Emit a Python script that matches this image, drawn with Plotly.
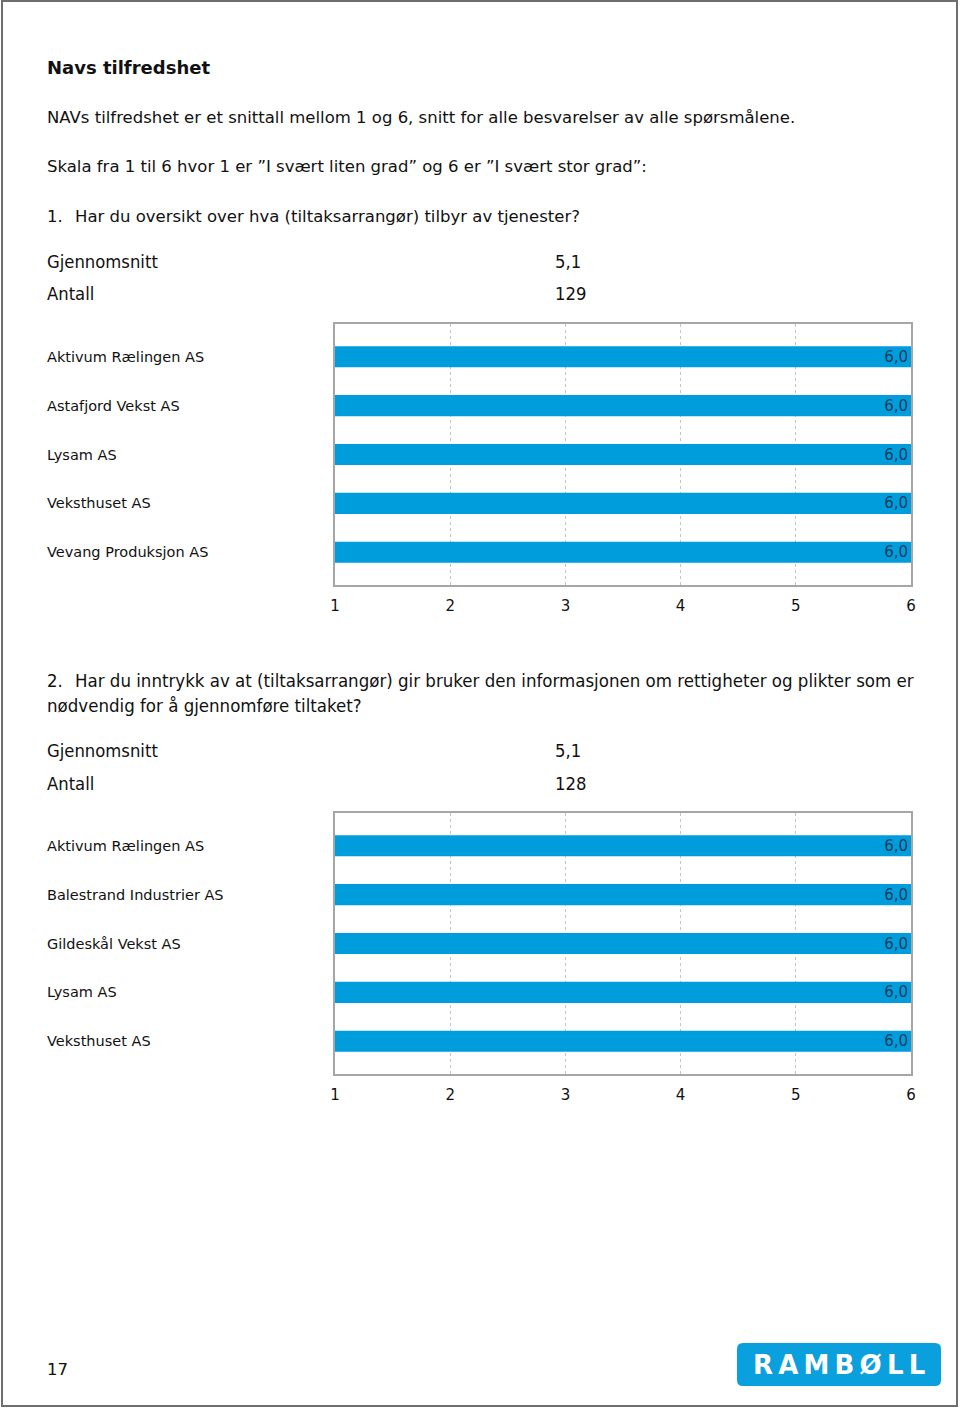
import plotly.graph_objects as go

# ── Data ──────────────────────────────────────────────────────────────────────
Q1_TEXT = "Har du oversikt over hva (tiltaksarrangør) tilbyr av tjenester?"
Q1_MEAN = 5.1
Q1_N = 129
Q1_COMPANIES = ["Aktivum Rælingen AS", "Astafjord Vekst AS", "Lysam AS",
                "Veksthuset AS", "Vevang Produksjon AS"]
Q1_SCORES = [6.0, 6.0, 6.0, 6.0, 6.0]

Q2_TEXT = ["Har du inntrykk av at (tiltaksarrangør) gir bruker den informasjonen "
           "om rettigheter og plikter som er",
           "nødvendig for å gjennomføre tiltaket?"]
Q2_MEAN = 5.1
Q2_N = 128
Q2_COMPANIES = ["Aktivum Rælingen AS", "Balestrand Industrier AS", "Gildeskål Vekst AS",
                "Lysam AS", "Veksthuset AS"]
Q2_SCORES = [6.0, 6.0, 6.0, 6.0, 6.0]

SCALE_TICKS = [1, 2, 3, 4, 5, 6]

# ── Style ─────────────────────────────────────────────────────────────────────
W, H = 960, 1408
BLUE = "#009DDC"
VERDANA = "DejaVu Sans, Verdana, sans-serif"
TAHOMA = "DejaVu Sans Condensed, Noto Sans, sans-serif"
FRAME = "#A6A6A6"
GRID = "#C4C4C4"


def px_x(x):
    return x / W


def px_y(y):
    return 1 - y / H


fig = go.Figure()

# plot boxes in pixels: (top, bottom)
boxes = [(324, 585), (813, 1074)]
x_dom = [px_x(335), px_x(911)]

for i, (companies, scores) in enumerate([(Q1_COMPANIES, Q1_SCORES), (Q2_COMPANIES, Q2_SCORES)]):
    sfx = "" if i == 0 else str(i + 1)
    fig.add_trace(go.Bar(
        x=scores, y=companies, orientation="h",
        xaxis="x" + sfx, yaxis="y" + sfx,
        marker=dict(color=BLUE, line=dict(width=0)),
        width=0.43,
        texttemplate="%{x:.1f}",
        textposition="inside", insidetextanchor="end", constraintext="none",
        textfont=dict(color="#1A3A5C", size=15, family=VERDANA),
        showlegend=False,
    ))
    top, bot = boxes[i]
    fig.layout["xaxis" + sfx] = dict(
        domain=x_dom, anchor="y" + sfx, range=[1, 6],
        tickvals=SCALE_TICKS, ticktext=[str(t) for t in SCALE_TICKS],
        showgrid=True, gridcolor=GRID, griddash="3px,3px", gridwidth=1,
        showline=True, linecolor=FRAME, linewidth=2, mirror=True,
        zeroline=False, ticks="outside", ticklen=6, tickcolor="rgba(0,0,0,0)",
        tickfont=dict(size=15, color="#111", family=VERDANA),
        automargin=False, fixedrange=True,
    )
    fig.layout["yaxis" + sfx] = dict(
        domain=[px_y(bot), px_y(top)], anchor="x" + sfx,
        type="category", range=[4.67, -0.67],
        showticklabels=False, showgrid=False,
        showline=True, linecolor=FRAME, linewidth=2, mirror=True,
        automargin=False, fixedrange=True,
    )
    for c in companies:
        fig.add_annotation(
            x=px_x(45), xref="paper", y=c, yref="y" + sfx,
            text=c, showarrow=False, xanchor="left", yanchor="middle",
            font=dict(size=14.5, color="#111", family=VERDANA),
        )

ann = []


def text(x, y, s, size=16.5, family=VERDANA, bold=False):
    ann.append(dict(
        x=px_x(x - 2), y=px_y(y), xref="paper", yref="paper",
        text=f"<b>{s}</b>" if bold else s, showarrow=False,
        xanchor="left", yanchor="middle", align="left",
        font=dict(size=size, color="#111", family=family),
    ))


text(47, 67, "Navs tilfredshet", size=18, bold=True)
text(47, 117, "NAVs tilfredshet er et snittall mellom 1 og 6, snitt for alle besvarelser av alle spørsmålene.")
text(47, 166, "Skala fra 1 til 6 hvor 1 er ”I svært liten grad” og 6 er ”I svært stor grad”:")

text(47, 216, "1.")
text(75, 216, Q1_TEXT)
text(47, 262, "Gjennomsnitt", size=18.3, family=TAHOMA)
text(555, 262, f"{Q1_MEAN:.1f}".replace(".", ","), size=18.3, family=TAHOMA)
text(47, 294, "Antall", size=18.3, family=TAHOMA)
text(555, 294, str(Q1_N), size=18.3, family=TAHOMA)

text(47, 680, "2.", size=18.4, family=TAHOMA)
text(75, 680, Q2_TEXT[0], size=18.5, family=TAHOMA)
text(47, 705, Q2_TEXT[1], size=18.5, family=TAHOMA)
text(47, 751, "Gjennomsnitt", size=18.3, family=TAHOMA)
text(555, 751, f"{Q2_MEAN:.1f}".replace(".", ","), size=18.3, family=TAHOMA)
text(47, 783, "Antall", size=18.3, family=TAHOMA)
text(555, 783, str(Q2_N), size=18.3, family=TAHOMA)

text(47, 1369, "17", size=16.5)

# Ramboll logo
ann.append(dict(
    x=px_x(839), y=px_y(1365), xref="paper", yref="paper",
    text="<b>R\u2009A\u2009M\u2009B\u2009Ø\u2009L\u2009L</b>", showarrow=False,
    xanchor="center", yanchor="middle",
    font=dict(size=26, color="white", family="DejaVu Sans, sans-serif"),
))

for a in ann:
    fig.add_annotation(**a)

# page frame
fig.add_shape(type="rect", xref="paper", yref="paper",
              x0=px_x(2), x1=px_x(957), y0=px_y(1406), y1=px_y(1),
              line=dict(color="#6E6E6E", width=2), fillcolor="rgba(0,0,0,0)", layer="below")

# logo box (rounded)
x0, x1, y0, y1, r = px_x(737), px_x(941), px_y(1386), px_y(1343), 6
rx, ry = r / W, r / H
path = (f"M {x0 + rx},{y1} L {x1 - rx},{y1} Q {x1},{y1} {x1},{y1 - ry} "
        f"L {x1},{y0 + ry} Q {x1},{y0} {x1 - rx},{y0} L {x0 + rx},{y0} "
        f"Q {x0},{y0} {x0},{y0 + ry} L {x0},{y1 - ry} Q {x0},{y1} {x0 + rx},{y1} Z")
fig.add_shape(type="path", xref="paper", yref="paper", path=path,
              fillcolor="#0A9FDD", line=dict(width=0), layer="below")

fig.update_layout(
    width=W, height=H,
    margin=dict(l=0, r=0, t=0, b=0, autoexpand=False),
    paper_bgcolor="white", plot_bgcolor="white",
    separators=", ",
    bargap=0.5,
    font=dict(family=VERDANA, color="#111"),
)

fig.write_html(
    "out.html",
    config={"displayModeBar": False},
    post_script="document.body.style.margin='0';document.body.style.overflow='hidden';",
)
